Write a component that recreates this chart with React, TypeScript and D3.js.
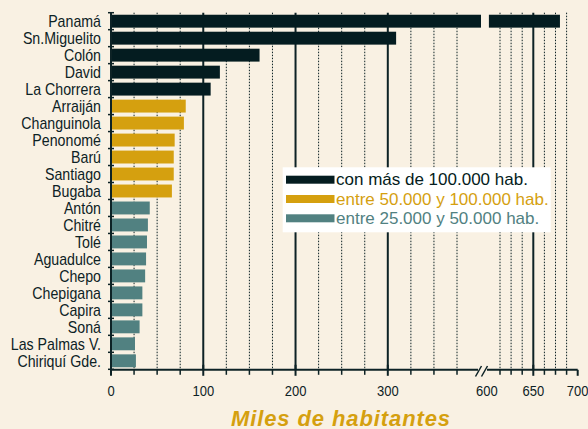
import React from "react";
import * as d3 from "d3";

const categories = [
  "Panamá", "Sn.Miguelito", "Colón", "David", "La Chorrera",
  "Arraiján", "Changuinola", "Penonomé", "Barú", "Santiago", "Bugaba",
  "Antón", "Chitré", "Tolé", "Aguadulce", "Chepo", "Chepigana", "Capira", "Soná", "Las Palmas V.", "Chiriquí Gde.",
];
const values = [680, 309, 161, 118, 108, 81, 79, 69, 68, 68, 66, 42, 40, 39, 38, 37, 34, 34, 31, 26, 27];
const groups = [0, 0, 0, 0, 0, 1, 1, 1, 1, 1, 1, 2, 2, 2, 2, 2, 2, 2, 2, 2, 2];
const groupLabels = ["con más de 100.000 hab.", "entre 50.000 y 100.000 hab.", "entre 25.000 y 50.000 hab."];
const groupColors = ["#041c20", "#d5a00f", "#518181"];
const majorTicks1 = [0, 100, 200, 300];
const minorTicks1 = [25, 50, 75, 125, 150, 175, 225, 250, 275, 325, 350, 375];
const majorTicks2 = [650];
const minorTicks2 = [612.5, 625, 637.5, 662.5, 675, 687.5];
const labelTicks2 = [600, 650, 700];
const axisTitle = "Miles de habitantes";

const W = 588, H = 429;
const BG = "#f9f1e3";
const INK = "#0d2225";
const FONT = "'Liberation Sans', Arial, sans-serif";

function Condensed(props: { x: number; y: number; sx: number; anchor: string; size: number; children: React.ReactNode; dy?: string }) {
  return (
    <text
      transform={`translate(${props.x},${props.y}) scale(${props.sx},1)`}
      dy={props.dy}
      textAnchor={props.anchor}
      fontSize={props.size}
      fill={INK}
    >
      {props.children}
    </text>
  );
}

export default function App() {
  const breakLo = 401;
  const x1 = d3.scaleLinear().domain([0, breakLo]).range([111, 481]);
  const x2 = d3.scaleLinear().domain([600, 700]).range([488.9, 577.7]);
  const y = d3.scaleBand<string>().domain(categories).range([12.7, 369.3]).paddingInner(0.24).paddingOuter(0.12);
  const step = y.step();
  const top = 12.7, axisY = 369.8;
  const bounds = d3.range(categories.length + 1).map((i) => top + i * step);

  return (
    <svg width={W} height={H} style={{ position: "absolute", left: 0, top: 0, background: BG }} fontFamily={FONT}>
      <rect x={0} y={0} width={W} height={H} fill={BG} />
      {/* grid */}
      {minorTicks1.map((t) => (
        <line key={"g1" + t} x1={x1(t)} x2={x1(t)} y1={top} y2={axisY} stroke={INK} strokeWidth={1} strokeDasharray="1.5,1.5" />
      ))}
      {minorTicks2.map((t) => (
        <line key={"g2" + t} x1={x2(t)} x2={x2(t)} y1={top} y2={axisY} stroke={INK} strokeWidth={1} strokeDasharray="1.5,1.5" />
      ))}
      {majorTicks1.filter((t) => t > 0).map((t) => (
        <line key={"m1" + t} x1={x1(t)} x2={x1(t)} y1={top} y2={axisY} stroke={INK} strokeWidth={2} />
      ))}
      {majorTicks2.map((t) => (
        <line key={"m2" + t} x1={x2(t)} x2={x2(t)} y1={top} y2={axisY} stroke={INK} strokeWidth={2} />
      ))}
      {/* bars */}
      {categories.map((c, i) => {
        const v = values[i];
        const yy = y(c)!;
        const h = y.bandwidth();
        const col = groupColors[groups[i]];
        if (v <= breakLo) {
          return <rect key={c} x={x1(0)} y={yy} width={x1(v) - x1(0)} height={h} fill={col} />;
        }
        return (
          <g key={c}>
            <rect x={x1(0)} y={yy} width={x1(breakLo) - x1(0)} height={h} fill={col} />
            <rect x={x2(600)} y={yy} width={x2(v) - x2(600)} height={h} fill={col} />
          </g>
        );
      })}
      {/* y axis */}
      <line x1={x1(0)} x2={x1(0)} y1={top} y2={axisY} stroke={INK} strokeWidth={2} />
      {bounds.map((b, i) => (
        <line key={"yt" + i} x1={x1(0) - 3} x2={x1(0) + 3} y1={b} y2={b} stroke={INK} strokeWidth={1.5} />
      ))}
      {categories.map((c) => (
        <Condensed key={"l" + c} x={101} y={y(c)! + y.bandwidth() / 2} dy="0.36em" anchor="end" size={17} sx={0.835}>
          {c}
        </Condensed>
      ))}
      {/* x axis */}
      <line x1={x1(0)} x2={478} y1={axisY} y2={axisY} stroke={INK} strokeWidth={2} />
      <line x1={487} x2={x2(700)} y1={axisY} y2={axisY} stroke={INK} strokeWidth={2} />
      <line x1={475.5} x2={481.5} y1={376.5} y2={366} stroke={INK} strokeWidth={1.5} />
      <line x1={481.5} x2={487.5} y1={376.5} y2={366} stroke={INK} strokeWidth={1.5} />
      {minorTicks1.map((t) => (
        <line key={"t1" + t} x1={x1(t)} x2={x1(t)} y1={axisY} y2={axisY + 5} stroke={INK} strokeWidth={1.5} />
      ))}
      {minorTicks2.map((t) => (
        <line key={"t2" + t} x1={x2(t)} x2={x2(t)} y1={axisY} y2={axisY + 5} stroke={INK} strokeWidth={1.5} />
      ))}
      {majorTicks1.map((t) => (
        <line key={"T1" + t} x1={x1(t)} x2={x1(t)} y1={axisY - 5} y2={axisY + 6} stroke={INK} strokeWidth={2} />
      ))}
      {majorTicks2.map((t) => (
        <line key={"T2" + t} x1={x2(t)} x2={x2(t)} y1={axisY - 5} y2={axisY + 6} stroke={INK} strokeWidth={2} />
      ))}
      <line x1={x2(700)} x2={x2(700)} y1={axisY} y2={axisY + 6} stroke={INK} strokeWidth={2} />
      {majorTicks1.map((t) => (
        <Condensed key={"xl1" + t} x={x1(t)} y={395.5} anchor="middle" size={15.5} sx={0.84}>{t}</Condensed>
      ))}
      {labelTicks2.map((t) => (
        <Condensed key={"xl2" + t} x={t === 600 ? x2(t) - 2 : x2(t)} y={395.5} anchor="middle" size={15.5} sx={0.84}>{t}</Condensed>
      ))}
      <text x={341} y={425.5} textAnchor="middle" fontSize={22} fontWeight="bold" fontStyle="italic" letterSpacing={0.9} fill={groupColors[1]}>{axisTitle}</text>
      {/* legend */}
      <rect x={282.7} y={167.3} width={268} height={65} fill="#ffffff" />
      {groupLabels.map((g, i) => (
        <g key={g}>
          <rect x={286} y={175.7 + i * 19.3} width={48.5} height={8} fill={groupColors[i]} />
          <text x={336} y={185 + i * 19.5} fontSize={17} fill={groupColors[i]}>{g}</text>
        </g>
      ))}
    </svg>
  );
}
